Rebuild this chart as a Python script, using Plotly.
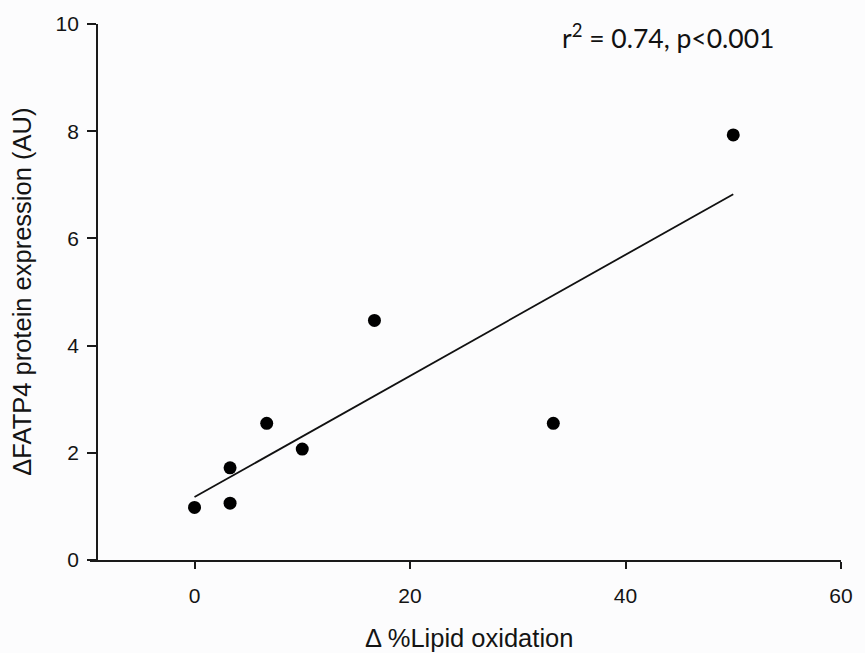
import numpy as np
import plotly.graph_objects as go

# Data
lipid_oxidation = [0.0, 3.3, 3.3, 6.7, 10.0, 16.7, 33.3, 50.0]
fatp4_expression = [0.98, 1.06, 1.72, 2.55, 2.07, 4.47, 2.55, 7.93]
x_ticks = [0, 20, 40, 60]
y_ticks = [0, 2, 4, 6, 8, 10]
stats_label = "r<sup>2</sup> = 0.74, p&lt;0.001"
x_title = "Δ %Lipid oxidation"
y_title = "ΔFATP4 protein expression (AU)"

slope, intercept = np.polyfit(lipid_oxidation, fatp4_expression, 1)
fit_x = [min(lipid_oxidation), max(lipid_oxidation)]
fit_y = [intercept + slope * v for v in fit_x]

X_MIN, X_MAX = -9.7, 60
Y_AXIS_AT = -9.05

fig = go.Figure()
fig.add_trace(go.Scatter(x=fit_x, y=fit_y, mode="lines",
                         line=dict(color="#111111", width=1.8),
                         hoverinfo="skip", showlegend=False))
fig.add_trace(go.Scatter(x=lipid_oxidation, y=fatp4_expression, mode="markers",
                         marker=dict(color="#000000", size=13),
                         showlegend=False))

tick_font = dict(family="Liberation Sans, Arial, sans-serif", size=21, color="#141414")
title_font = dict(family="Liberation Sans, Arial, sans-serif", size=25.5, color="#141414")

fig.update_layout(
    width=865, height=653,
    margin=dict(l=90, r=13, t=19, b=93),
    paper_bgcolor="#fcfcfd", plot_bgcolor="#fcfcfd",
    xaxis=dict(range=[X_MIN, X_MAX], tickvals=x_ticks, ticks="outside", ticklen=7,
               tickwidth=1.8, tickcolor="#1a1a1a", showline=True, linecolor="#1a1a1a",
               linewidth=1.8, showgrid=False, zeroline=False, tickfont=tick_font,
               ticklabelstandoff=9, domain=[0, 1]),
    yaxis=dict(range=[0, 10], tickvals=y_ticks, ticks="outside", ticklen=9,
               tickwidth=1.8, tickcolor="#1a1a1a", showline=True, linecolor="#1a1a1a",
               linewidth=1.8, showgrid=False, zeroline=False, tickfont=tick_font,
               ticklabelstandoff=4,
               anchor="free", position=(Y_AXIS_AT - X_MIN) / (X_MAX - X_MIN)),
    annotations=[
        dict(text=stats_label, x=43.95, y=9.77, xref="x", yref="y", showarrow=False,
             font=dict(family="Lato, Carlito, sans-serif", size=26.5, color="#111111"),
             xanchor="center", yanchor="middle"),
        dict(text=x_title, x=0.505, y=-0.146, xref="paper", yref="paper", showarrow=False,
             font=title_font, xanchor="center", yanchor="middle"),
        dict(text=y_title, x=-0.091, y=0.50, xref="paper", yref="paper", showarrow=False,
             font=title_font, textangle=-90, xanchor="center", yanchor="middle"),
    ],
)

fig.write_html("out.html", config={"displayModeBar": False},
               post_script="document.body.style.margin='0';document.body.style.background='#fcfcfd';")
